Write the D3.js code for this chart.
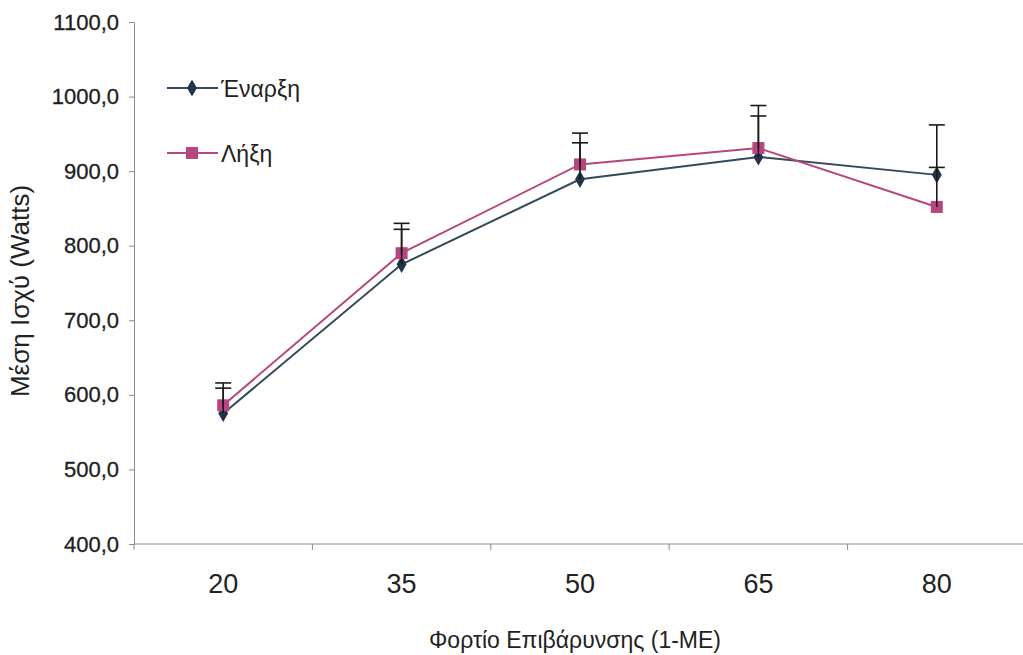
<!DOCTYPE html>
<html><head><meta charset="utf-8">
<script src="https://cdn.jsdelivr.net/npm/d3@7"></script>
<style>body{margin:0;background:#fff;} svg{display:block;} text{font-family:"Liberation Sans",Arial,sans-serif;fill:#222;}</style>
</head><body>
<svg id="c" width="1023" height="655"></svg>
<script>
const categories = ["20","35","50","65","80"];
const enarxi = [575, 775, 889, 919, 895];
const lixi = [586, 790, 909, 931, 852];
const enarxiErrTop = [609, 822, 938, 974, 905];
const lixiErrTop = [616, 830, 951, 988, 962];
const yTicks = [400,500,600,700,800,900,1000,1100];
const seriesNames = ["Έναρξη","Λήξη"];

const svg = d3.select("#c");
const x = d3.scaleBand().domain(categories).range([134, 1026]).padding(0);
const y = d3.scaleLinear().domain([400,1100]).range([544, 22]);
const cx = c => x(c) + x.bandwidth()/2;
const axisCol = "#8a8a8a";
const blue = "#34495e", pink = "#b8467e";

// y axis
const ya = svg.append("g").attr("transform","translate(134,0)")
  .call(d3.axisLeft(y).tickValues(yTicks).tickSize(5).tickPadding(10).tickFormat(d => d3.format(".1f")(d).replace(".",",")));
ya.select(".domain").attr("stroke",axisCol);
ya.selectAll(".tick line").attr("stroke",axisCol);
ya.selectAll(".tick text").style("font-size","22px").attr("fill","#1a1a1a").attr("stroke","#1a1a1a").attr("stroke-width",0.3);

// x axis
svg.append("line").attr("x1",134).attr("x2",1023).attr("y1",544).attr("y2",544).attr("stroke",axisCol);
const bounds = categories.map(c => x(c));
svg.selectAll(".xt").data(bounds).enter().append("line")
  .attr("x1",d=>d).attr("x2",d=>d).attr("y1",544).attr("y2",550).attr("stroke",axisCol);
svg.selectAll(".xl").data(categories).enter().append("text")
  .attr("x",d=>cx(d)).attr("y",593).attr("text-anchor","middle").style("font-size","27px").text(d=>d);

// titles
svg.append("text").attr("x",575).attr("y",648).attr("text-anchor","middle").style("font-size","23px").text("Φορτίο Επιβάρυνσης (1-ΜΕ)");
svg.append("text").attr("transform","translate(29,291) rotate(-90)").attr("text-anchor","middle").style("font-size","26px").text("Μέση Ισχύ (Watts)");

const line = d3.line().x((d,i)=>cx(categories[i])).y(d=>y(d));
svg.append("path").datum(enarxi).attr("d",line).attr("fill","none").attr("stroke",blue).attr("stroke-width",2);
svg.append("path").datum(lixi).attr("d",line).attr("fill","none").attr("stroke",pink).attr("stroke-width",2);

const diamond = d3.symbol().type(d3.symbolDiamond).size(85);
svg.selectAll(".dm").data(enarxi).enter().append("path").attr("d",diamond)
  .attr("transform",(d,i)=>`translate(${cx(categories[i])},${y(d)})`).attr("fill","#23344a");
svg.selectAll(".sq").data(lixi).enter().append("rect")
  .attr("x",(d,i)=>cx(categories[i])-6).attr("y",d=>y(d)-6).attr("width",12).attr("height",12).attr("fill",pink);

// error bars (positive)
function errBars(vals, tops){
  tops.forEach((t,i)=>{
    const xx = cx(categories[i]);
    svg.append("line").attr("x1",xx).attr("x2",xx).attr("y1",y(vals[i])).attr("y2",y(t)).attr("stroke","#1a1a1a").attr("stroke-width",1.6);
    svg.append("line").attr("x1",xx-8).attr("x2",xx+8).attr("y1",y(t)).attr("y2",y(t)).attr("stroke","#1a1a1a").attr("stroke-width",1.6);
  });
}
errBars(enarxi, enarxiErrTop);
errBars(lixi, lixiErrTop);

// legend
const leg = [{n:seriesNames[0],c:blue,y:88,t:"d"},{n:seriesNames[1],c:pink,y:153,t:"s"}];
leg.forEach(l=>{
  svg.append("line").attr("x1",167).attr("x2",218).attr("y1",l.y).attr("y2",l.y).attr("stroke",l.c).attr("stroke-width",2);
  if(l.t==="d") svg.append("path").attr("d",diamond).attr("transform",`translate(192,${l.y})`).attr("fill","#23344a");
  else svg.append("rect").attr("x",186).attr("y",l.y-6).attr("width",12).attr("height",12).attr("fill",l.c);
  svg.append("text").attr("x",221).attr("y",l.y+9).style("font-size","23px").text(l.n);
});
</script>
</body></html>
